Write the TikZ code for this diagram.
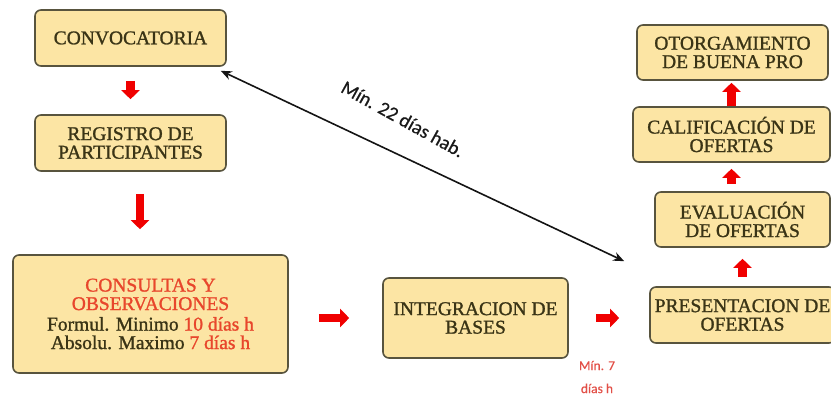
\documentclass[tikz,border=0pt]{standalone}
\usepackage{fontspec}
\setmainfont{Liberation Serif}
\newfontfamily\boxfont{Liberation Serif}[FakeBold=1.2]
\newfontfamily\calib{Carlito}[FakeBold=0.6]
\usetikzlibrary{arrows.meta}
\definecolor{boxfill}{RGB}{252,229,164}
\definecolor{boxline}{RGB}{88,84,62}
\definecolor{boxtext}{RGB}{58,52,22}
\definecolor{redtxt}{RGB}{232,70,44}
\definecolor{arrred}{RGB}{240,0,0}
\definecolor{lblred}{RGB}{226,80,72}
\begin{document}
\begin{tikzpicture}[x=1pt,y=-1pt,
  box/.style={draw=boxline, fill=boxfill, line width=1.6pt, rounded corners=6pt,
    align=center, text=boxtext, inner sep=0pt,
    font=\boxfont\fontsize{19.5}{18.5}\selectfont},
  redarr/.style={draw=arrred, line width=8.5pt, -{Triangle[width=18pt,length=9pt]}},
  blkarr/.style={draw=black!92, line width=1.6pt,
    {Stealth[length=11pt,width=9pt]}-{Stealth[length=11pt,width=9pt]}}]
\useasboundingbox (0,0) rectangle (831,398);
\node[box, minimum width=191pt, minimum height=56pt] (conv) at (130.5,38) {CONVOCATORIA};
\node[box, minimum width=191pt, minimum height=56pt] (reg) at (130.5,143) {REGISTRO DE\\PARTICIPANTES};
\node[box, minimum width=275pt, minimum height=118pt] (cons) at (150.5,314)
  {\textcolor{redtxt}{CONSULTAS Y}\\\textcolor{redtxt}{OBSERVACIONES}\\[2pt]
   Formul. Minimo \textcolor{redtxt}{10 días h}\\Absolu. Maximo \textcolor{redtxt}{7 días h}};
\node[box, minimum width=185pt, minimum height=80pt] (integ) at (475.5,318) {INTEGRACION DE\\BASES};
\node[box, minimum width=185pt, minimum height=56pt] (pres) at (742.5,315) {PRESENTACION DE\\OFERTAS};
\node[box, minimum width=175pt, minimum height=55pt] (eval) at (742.5,219.5) {EVALUACIÓN\\DE OFERTAS};
\node[box, minimum width=197pt, minimum height=55pt] (calif) at (731.5,134.5) {CALIFICACIÓN DE\\OFERTAS};
\node[box, minimum width=191pt, minimum height=55pt] (otorg) at (732.5,52.5) {OTORGAMIENTO\\DE BUENA PRO};

\draw[redarr, shorten <=14pt, shorten >=15pt] (conv.south) -- (reg.north);
\draw[redarr, shorten <=22pt, shorten >=25pt] ([xshift=9.5pt]reg.south) -- ([xshift=9.5pt]reg.south |- cons.north);
\draw[redarr, shorten <=30pt, shorten >=33pt] (cons.east |- integ.west) -- (integ.west);
\draw[redarr, shorten <=27pt, shorten >=30pt] (integ.east) -- (integ.east -| pres.west);
\draw[redarr, shorten <=9pt, shorten >=11pt] (pres.north) -- (eval.south);
\draw[redarr, shorten <=7pt, shorten >=6pt] (eval.north -| calif.south) -- (calif.south);
\draw[redarr, shorten >=2pt] (calif.north) -- (calif.north |- otorg.south);

\coordinate (a1) at ([shift={(-6,4)}]conv.south east);
\coordinate (a2) at ([shift={(-25,-25)}]pres.north west);
\draw[blkarr] (a1) -- (a2);
\node[rotate=-29, font=\calib\fontsize{19.5}{19}\selectfont, text=black!90] (lbl22) at (403,119) {Mín. 22 días hab.};
\node[align=center, font=\calib\fontsize{13.5}{23}\selectfont, text=lblred] (lbl7) at (597,377) {Mín. 7\\días h};
\end{tikzpicture}
\end{document}
